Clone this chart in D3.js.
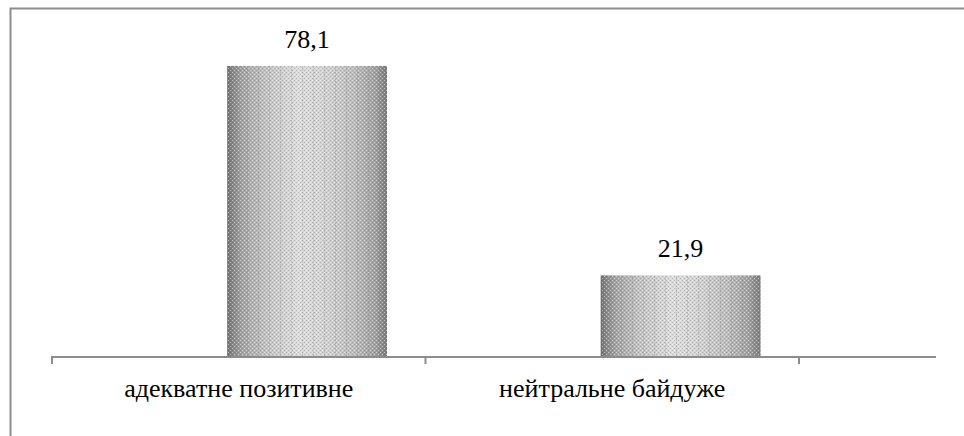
<!DOCTYPE html>
<html><head><meta charset="utf-8">
<script src="https://cdn.jsdelivr.net/npm/d3@7"></script>
</head><body>
<svg id="c" width="964" height="436" style="position:absolute;left:0;top:0"></svg>
<script>
const categories = ["адекватне позитивне", "нейтральне байдуже"];
const values = [78.1, 21.9];
const valueLabels = ["78,1", "21,9"];

const svg = d3.select("#c");
const W = 964, H = 436;
const baseY = 357;
const FONT = 'Liberation Serif, Times New Roman, Tinos, FreeSerif, DejaVu Serif, serif';

// frame
svg.append("path").attr("d", `M10.5,${H} V8.5 H${W}`).attr("fill","none").attr("stroke","#8c8c8c").attr("stroke-width",2);

const x = d3.scaleBand().domain(categories).range([52, 799]).padding(0);
const y = d3.scaleLinear().domain([0, 90]).range([baseY, baseY - 90*3.727]);

const defs = svg.append("defs");
const grad = defs.append("linearGradient").attr("id","g").attr("x1","0").attr("x2","1").attr("y1","0").attr("y2","0");
[[0,"#6e6e6e"],[0.04,"#8a8a8a"],[0.1,"#a6a6a6"],[0.25,"#c4c4c4"],[0.45,"#dcdcdc"],[0.6,"#d4d4d4"],[0.8,"#bcbcbc"],[0.93,"#a0a0a0"],[1,"#7a7a7a"]]
  .forEach(([o,c]) => grad.append("stop").attr("offset",o).attr("stop-color",c));
const pat = defs.append("pattern").attr("id","p").attr("width",4).attr("height",4).attr("patternUnits","userSpaceOnUse");
pat.append("rect").attr("x",0).attr("y",0).attr("width",1).attr("height",1).attr("fill","#fff").attr("opacity",0.5);
pat.append("rect").attr("x",2).attr("y",2).attr("width",1).attr("height",1).attr("fill","#fff").attr("opacity",0.5);
pat.append("rect").attr("x",2).attr("y",0).attr("width",1).attr("height",1).attr("fill","#555").attr("opacity",0.3);
pat.append("rect").attr("x",0).attr("y",2).attr("width",1).attr("height",1).attr("fill","#555").attr("opacity",0.3);
const pat2 = defs.append("pattern").attr("id","s").attr("width",11).attr("height",3).attr("patternUnits","userSpaceOnUse");
pat2.append("rect").attr("x",5).attr("y",0).attr("width",1).attr("height",2).attr("fill","#777").attr("opacity",0.3);

const bw = x.bandwidth();
const off = bw * 0.469, barW = bw * 0.428;

const bars = svg.append("g");
categories.forEach((c,i) => {
  const bx = x(c) + off, by = y(values[i]), bh = y(0) - y(values[i]);
  bars.append("rect").attr("x",bx).attr("y",by).attr("width",barW).attr("height",bh).attr("fill","url(#g)");
  bars.append("rect").attr("x",bx).attr("y",by).attr("width",barW).attr("height",bh).attr("fill","url(#p)");
  bars.append("rect").attr("x",bx).attr("y",by).attr("width",barW).attr("height",bh).attr("fill","url(#s)");
});

// axis
const ax = svg.append("g").attr("stroke","#8c8c8c").attr("stroke-width",2).attr("fill","none");
ax.append("line").attr("x1",51).attr("x2",936).attr("y1",baseY).attr("y2",baseY);
const ticks = categories.map(c => x(c)).concat([x.range()[1]]);
ticks.forEach(t => ax.append("line").attr("x1",t).attr("x2",t).attr("y1",baseY).attr("y2",baseY+7));

categories.forEach((c,i) => {
  const bx = x(c) + off;
  svg.append("text").attr("x",bx + barW/2).attr("y",y(values[i]) - 18)
    .attr("text-anchor","middle")
    .attr("font-family",FONT).attr("font-size",26).text(valueLabels[i]);
  svg.append("text").attr("x", x(c) + bw/2).attr("y", 397)
    .attr("text-anchor","middle")
    .attr("font-family",FONT).attr("font-size",26).text(c);
});
</script>
</body></html>
